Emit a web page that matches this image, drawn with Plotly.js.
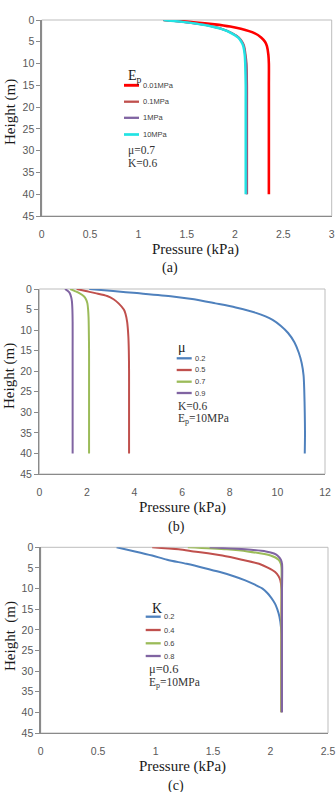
<!DOCTYPE html>
<html>
<head>
<meta charset="utf-8">
<script src="https://cdn.plot.ly/plotly-3.0.1.min.js"></script>
<style>
  html, body { margin: 0; padding: 0; background: #ffffff; }
  #chart { width: 336px; height: 792px; }
</style>
</head>
<body>
<div id="chart"></div>
<script>
// ---------- Panel (a): lateral pressure vs height for different Ep (mu = 0.7, K = 0.6)
const epLabels = ['0.01MPa', '0.1MPa', '1MPa', '10MPa'];
const depthA = [0, 0.5, 1, 1.5, 2, 3, 4, 5, 6, 8, 10, 15, 20, 25, 30, 35, 40];
const presEp001 = [1.26, 1.57, 1.79, 1.95, 2.06, 2.20, 2.27, 2.31, 2.33, 2.345, 2.35, 2.35, 2.35, 2.35, 2.35, 2.35, 2.35];
const presEp01  = [1.26, 1.49, 1.65, 1.77, 1.86, 1.97, 2.04, 2.075, 2.095, 2.11, 2.12, 2.125, 2.125, 2.125, 2.125, 2.125, 2.125];
const presEp1   = [1.26, 1.485, 1.645, 1.765, 1.855, 1.965, 2.035, 2.07, 2.09, 2.105, 2.115, 2.12, 2.12, 2.12, 2.12, 2.12, 2.12];
const presEp10  = [1.26, 1.48, 1.64, 1.76, 1.85, 1.96, 2.03, 2.065, 2.085, 2.10, 2.105, 2.11, 2.11, 2.11, 2.11, 2.11, 2.11];

// ---------- Panel (b): different mu (K = 0.6, Ep = 10MPa)
const muLabels = ['0.2', '0.5', '0.7', '0.9'];
const depthMu02 = [0, 0.5, 1, 1.8, 2.5, 3.5, 4.5, 5.8, 7.5, 9, 10.7, 13, 15.5, 18, 21, 25, 30, 35, 40];
const presMu02  = [2.1, 3.1, 4.1, 5.6, 6.5, 7.4, 8.25, 9.1, 9.8, 10.15, 10.45, 10.72, 10.9, 11.02, 11.1, 11.13, 11.15, 11.16, 11.15];
const depthMu05 = [0, 0.5, 1, 1.7, 2.5, 3.5, 5, 6, 8, 11.5, 15, 20, 25, 30, 35, 40];
const presMu05  = [1.57, 1.95, 2.35, 2.85, 3.12, 3.33, 3.55, 3.62, 3.69, 3.74, 3.76, 3.77, 3.77, 3.77, 3.77, 3.77];
const depthMu07 = [0, 0.5, 1, 1.7, 2.5, 3.5, 5, 7, 10, 15, 20, 25, 30, 35, 40];
const presMu07  = [1.3, 1.5, 1.68, 1.86, 1.96, 2.02, 2.05, 2.07, 2.08, 2.09, 2.09, 2.09, 2.09, 2.09, 2.09];
const depthMu09 = [0, 0.5, 1, 2, 3, 5, 8, 15, 20, 25, 30, 35, 40];
const presMu09  = [1.08, 1.2, 1.28, 1.34, 1.37, 1.39, 1.40, 1.40, 1.40, 1.40, 1.40, 1.40, 1.40];

// ---------- Panel (c): different K (mu = 0.6, Ep = 10MPa)
const kLabels = ['0.2', '0.4', '0.6', '0.8'];
const depthK02 = [0, 1, 2, 3, 4, 5, 6, 7, 8, 9, 10, 11, 12, 13, 14, 16, 18, 21, 25, 30, 35, 40];
const presK02  = [0.66, 0.82, 0.97, 1.1, 1.27, 1.42, 1.56, 1.68, 1.78, 1.86, 1.93, 1.97, 2.0, 2.025, 2.045, 2.07, 2.085, 2.095, 2.095, 2.095, 2.095, 2.095];
const depthK04 = [0, 0.5, 1, 2, 3, 4, 5, 6, 7, 8, 10, 15, 20, 25, 30, 35, 40];
const presK04  = [0.97, 1.2, 1.33, 1.58, 1.75, 1.9, 1.98, 2.04, 2.07, 2.085, 2.095, 2.095, 2.095, 2.095, 2.095, 2.095, 2.095];
const depthK06 = [0, 0.5, 1, 2, 3, 4, 5, 10, 15, 20, 25, 30, 35, 40];
const presK06  = [1.28, 1.62, 1.8, 2.0, 2.07, 2.09, 2.095, 2.095, 2.095, 2.095, 2.095, 2.095, 2.095, 2.095];
const depthK08 = [0, 0.5, 1, 1.5, 2, 3, 4, 10, 15, 20, 25, 30, 35, 40];
const presK08  = [1.47, 1.78, 1.96, 2.03, 2.06, 2.09, 2.1, 2.1, 2.1, 2.1, 2.1, 2.1, 2.1, 2.1];

// ---------- page geometry (pixels) -> paper coordinates
const W = 336, H = 792;
const fx = px => px / W;
const fy = py => 1 - py / H;

const panels = [
  { xl: 41.7, xr: 331.7, yt: 20,    yb: 216,   xmax: 3,   dtick: 0.5 },
  { xl: 39.3, xr: 325.0, yt: 289,   yb: 474,   xmax: 12,  dtick: 2   },
  { xl: 40.7, xr: 328.0, yt: 547.3, yb: 733.0, xmax: 2.5, dtick: 0.5 }
];

const excel = { blue: '#4f81bd', red: '#c0504d', green: '#9bbb59', purple: '#8064a2' };
const serif = 'Liberation Serif, Times New Roman, serif';
const sans = 'Liberation Sans, Arial, sans-serif';

const seriesA = [
  { y: depthA, x: presEp001, color: '#ff0000', width: 2.6 },
  { y: depthA, x: presEp01,  color: excel.red, width: 2 },
  { y: depthA, x: presEp1,   color: excel.purple, width: 2 },
  { y: depthA, x: presEp10,  color: '#22e3e3', width: 2.4 }
];
const seriesB = [
  { y: depthMu02, x: presMu02, color: excel.blue, width: 2 },
  { y: depthMu05, x: presMu05, color: excel.red, width: 2 },
  { y: depthMu07, x: presMu07, color: excel.green, width: 2 },
  { y: depthMu09, x: presMu09, color: excel.purple, width: 2 }
];
const seriesC = [
  { y: depthK02, x: presK02, color: excel.blue, width: 2 },
  { y: depthK04, x: presK04, color: excel.red, width: 2 },
  { y: depthK06, x: presK06, color: excel.green, width: 2 },
  { y: depthK08, x: presK08, color: excel.purple, width: 2 }
];
const groups = [
  { series: seriesA, labels: epLabels },
  { series: seriesB, labels: muLabels },
  { series: seriesC, labels: kLabels }
];

const traces = [];
groups.forEach((g, i) => {
  const sfx = i === 0 ? '' : String(i + 1);
  g.series.forEach((s, j) => {
    traces.push({
      type: 'scatter', mode: 'lines',
      x: s.x, y: s.y, name: g.labels[j],
      xaxis: 'x' + sfx, yaxis: 'y' + sfx,
      line: { color: s.color, width: s.width, shape: 'spline', smoothing: 0.8 },
      showlegend: false, hoverinfo: 'skip'
    });
  });
});

const layout = {
  width: W, height: H,
  margin: { l: 0, r: 0, t: 0, b: 0 },
  paper_bgcolor: '#ffffff', plot_bgcolor: '#ffffff',
  showlegend: false,
  shapes: [], annotations: []
};

panels.forEach((p, i) => {
  const sfx = i === 0 ? '' : String(i + 1);
  layout['xaxis' + sfx] = {
    domain: [fx(p.xl), fx(p.xr)], anchor: 'y' + sfx,
    range: [0, p.xmax], dtick: p.dtick, tick0: 0,
    showgrid: false, zeroline: false,
    showline: true, linecolor: '#8a8a8a', linewidth: 1.3,
    ticks: '', ticklabelstandoff: 8,
    tickfont: { family: sans, size: 10.5, color: '#595959' }
  };
  layout['yaxis' + sfx] = {
    domain: [fy(p.yb), fy(p.yt)], anchor: 'x' + sfx,
    range: [45, 0], dtick: 5, tick0: 0,
    showgrid: false, zeroline: false,
    showline: true, linecolor: '#8a8a8a', linewidth: 1.3,
    ticks: 'outside', ticklen: 4, tickcolor: '#8a8a8a', tickwidth: 1,
    tickfont: { family: sans, size: 10.5, color: '#595959' }
  };
  // light frame round the plot area
  layout.shapes.push({
    type: 'rect', xref: 'paper', yref: 'paper',
    x0: fx(p.xl), x1: fx(p.xr), y0: fy(p.yb), y1: fy(p.yt),
    line: { color: '#bdbdbd', width: 1 }, layer: 'below'
  });
});

function text(x, y, t, opts) {
  layout.annotations.push(Object.assign({
    xref: 'paper', yref: 'paper', x: fx(x), y: fy(y), text: t,
    showarrow: false, xanchor: 'center', yanchor: 'middle',
    font: { family: serif, size: 15, color: '#1a1a1a' }
  }, opts || {}));
}

// axis titles and captions
const xTitles = [[195, 249], [183, 507], [183, 766]];
const yTitles = [[10, 112, 'Height (m)'], [10, 376, 'Height (m)'], [10, 636, 'Height  (m)']];
const captions = [[170, 268, '(a)'], [176, 527, '(b)'], [176, 786, '(c)']];
xTitles.forEach(t => text(t[0], t[1], 'Pressure (kPa)'));
yTitles.forEach(t => text(t[0], t[1], t[2], { textangle: -90 }));
captions.forEach(t => text(t[0], t[1], t[2], { font: { family: serif, size: 14, color: '#1a1a1a' } }));

// hand-placed legends: short line sample + small label
function legend(group, lineX0, lineX1, rows) {
  group.series.forEach((s, j) => {
    layout.shapes.push({
      type: 'line', xref: 'paper', yref: 'paper',
      x0: fx(lineX0), x1: fx(lineX1), y0: fy(rows[j]), y1: fy(rows[j]),
      line: { color: s.color, width: s.width + 0.3 }
    });
    text(lineX1 + 1.5, rows[j], group.labels[j], {
      xanchor: 'left', font: { family: sans, size: 7.5, color: '#404040' }
    });
  });
}
legend(groups[0], 124, 139, [85.3, 101.7, 117.8, 134.5]);
legend(groups[1], 176.7, 191.7, [358.3, 370, 381.7, 393]);
legend(groups[2], 145.7, 160.7, [616.7, 630, 643.3, 656]);

// legend headings and parameter notes
const noteFont = { family: serif, size: 11.5, color: '#333333' };
text(126, 76.5, 'E<sub>p</sub>', { xanchor: 'left', font: { family: serif, size: 14, color: '#1a1a1a' } });
text(126, 150, 'μ=0.7', { xanchor: 'left', font: noteFont });
text(126, 163.3, 'K=0.6', { xanchor: 'left', font: noteFont });

text(176, 347, 'μ', { xanchor: 'left', font: { family: serif, size: 14, color: '#1a1a1a' } });
text(175.5, 406, 'K=0.6', { xanchor: 'left', font: noteFont });
text(175.5, 419, 'E<sub>p</sub>=10MPa', { xanchor: 'left', font: noteFont });

text(149.5, 608.5, 'K', { xanchor: 'left', font: { family: serif, size: 14, color: '#1a1a1a' } });
text(146.5, 669.3, 'μ=0.6', { xanchor: 'left', font: { family: serif, size: 12.5, color: '#333333' } });
text(146.5, 683.3, 'E<sub>p</sub>=10MPa', { xanchor: 'left', font: noteFont });

Plotly.newPlot('chart', traces, layout, { staticPlot: true, displayModeBar: false });
</script>
</body>
</html>
